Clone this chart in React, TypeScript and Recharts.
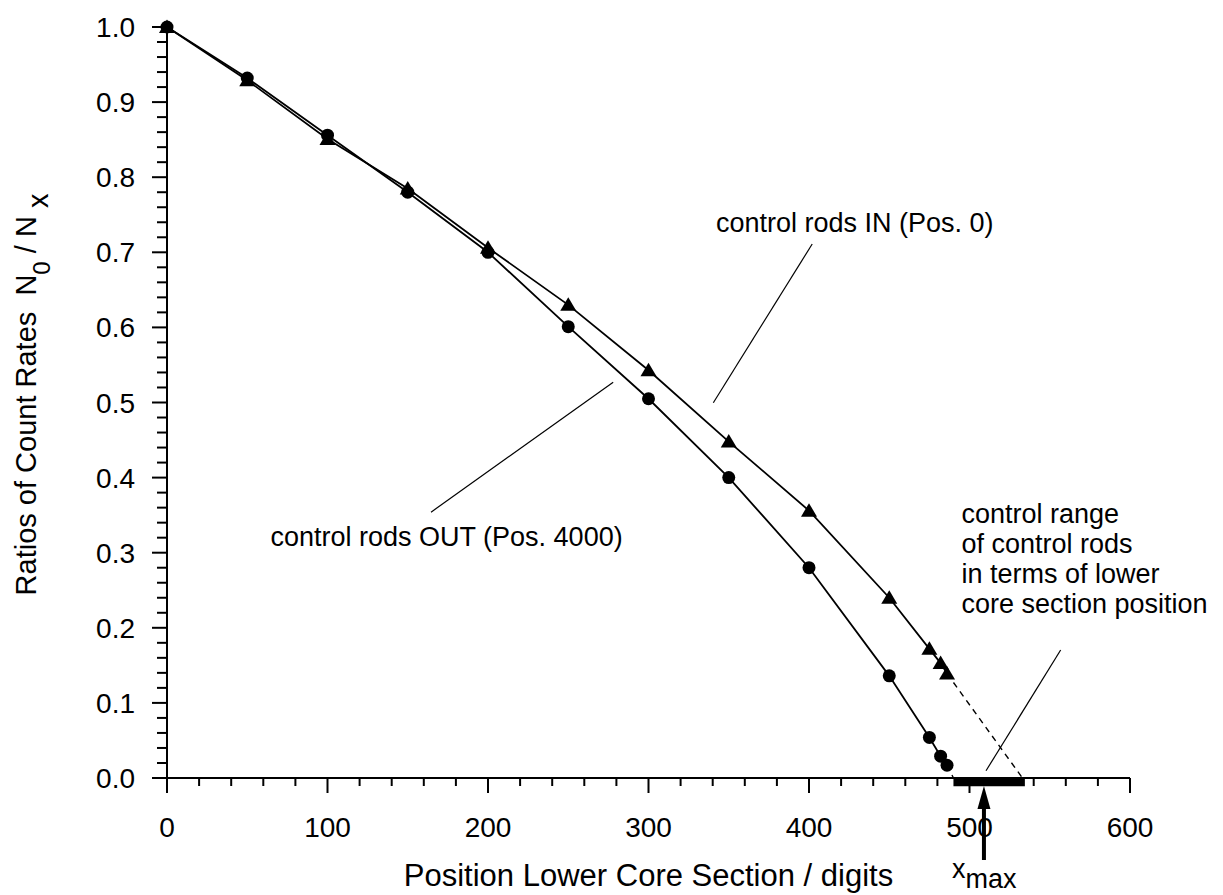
import React from "react";
import {
  LineChart,
  Line,
  XAxis,
  YAxis,
  ReferenceLine,
  ReferenceDot,
  ReferenceArea,
  Label,
} from "recharts";

// measured points (lower core section position in digits)
const positions = [0, 50, 100, 150, 200, 250, 300, 350, 400, 450, 475, 482, 486];
const rodsOut = [1.0, 0.932, 0.856, 0.78, 0.7, 0.601, 0.505, 0.4, 0.28, 0.136, 0.054, 0.029, 0.017];
const rodsIn = [1.0, 0.929, 0.851, 0.785, 0.706, 0.63, 0.543, 0.448, 0.356, 0.24, 0.172, 0.153, 0.139];

// extrapolation to zero count-rate ratio
const outZeroX = 490;
const inZeroX = 533;
const controlRange = [490, 534.5];
const xMaxPos = 509;

const xMajorTicks = [0, 100, 200, 300, 400, 500, 600];
const yMajorTicks = [0, 0.1, 0.2, 0.3, 0.4, 0.5, 0.6, 0.7, 0.8, 0.9, 1.0];
const xMinorStep = 20;
const yMinorStep = 0.02;

// annotation anchors in data units
const inLabel = { x: 342, y: 0.727, text: "control rods IN (Pos. 0)" };
const outLabel = { x: 64.5, y: 0.309, text: "control rods OUT (Pos. 4000)" };
const rangeLabel = {
  x: 495,
  y: 0.3395,
  lines: ["control range", "of control rods", "in terms of lower", "core section position"],
};
const inLeader = [{ x: 402, y: 0.711 }, { x: 340.4, y: 0.4997 }];
const outLeader = [{ x: 278, y: 0.527 }, { x: 164.5, y: 0.354 }];
const rangeLeader = [{ x: 556.8, y: 0.1704 }, { x: 510.3, y: 0.0097 }];

const outData = positions.map((x, i) => ({ x, y: rodsOut[i] }));
const inData = positions.map((x, i) => ({ x, y: rodsIn[i] }));
const outExt = [
  { x: positions[positions.length - 1], y: rodsOut[rodsOut.length - 1] },
  { x: outZeroX, y: 0 },
];
const inExt = [
  { x: positions[positions.length - 1], y: rodsIn[rodsIn.length - 1] },
  { x: inZeroX, y: 0 },
];

const xTicks: number[] = [];
for (let v = xMajorTicks[0]; v <= xMajorTicks[xMajorTicks.length - 1]; v += xMinorStep) xTicks.push(v);
const yTicks: number[] = [];
for (let i = 0; i <= Math.round(1 / yMinorStep); i++) yTicks.push(+(i * yMinorStep).toFixed(2));

const FONT = "'Liberation Sans', Arial, Helvetica, sans-serif";

function XTick({ x, y, payload }: any) {
  const major = xMajorTicks.includes(payload.value);
  return (
    <g>
      <line x1={x} y1={y} x2={x} y2={y + (major ? 15 : 8)} stroke="#000" strokeWidth={2} />
      {major && (
        <text x={x} y={y + 59} textAnchor="middle" fontSize={28} fontFamily={FONT} fill="#000">
          {payload.value}
        </text>
      )}
    </g>
  );
}

function YTick({ x, y, payload }: any) {
  const major = yMajorTicks.some((t) => Math.abs(t - payload.value) < 1e-6);
  return (
    <g>
      <line x1={x - (major ? 15 : 10)} y1={y} x2={x} y2={y} stroke="#000" strokeWidth={2} />
      {major && (
        <text x={x - 32} y={y + 10} textAnchor="end" fontSize={28} fontFamily={FONT} fill="#000">
          {payload.value.toFixed(1)}
        </text>
      )}
    </g>
  );
}

function YTitle({ viewBox }: any) {
  const x = viewBox.x + 36;
  const y = viewBox.y + viewBox.height / 2 - 8;
  return (
    <text
      transform={`rotate(-90 ${x} ${y})`}
      x={x}
      y={y}
      textAnchor="middle"
      fontSize={29}
      fontFamily={FONT}
      fill="#000"
    >
      {"Ratios of Count Rates\u00a0\u00a0N"}
      <tspan fontSize={24} dy={14}>0</tspan>
      <tspan dy={-14}>{"\u00a0/\u00a0N\u00a0"}</tspan>
      <tspan dy={12}>x</tspan>
    </text>
  );
}

function XTitle({ viewBox }: any) {
  return (
    <text
      x={viewBox.x + viewBox.width / 2}
      y={viewBox.y + 108}
      textAnchor="middle"
      fontSize={31}
      fontFamily={FONT}
      fill="#000"
    >
      Position Lower Core Section / digits
    </text>
  );
}

const CircleDot = (p: any) => <circle key={p.index} cx={p.cx} cy={p.cy} r={6.5} fill="#000" />;
const TriDot = (p: any) => (
  <polygon
    key={p.index}
    points={`${p.cx},${p.cy - 7.5} ${p.cx - 8},${p.cy + 6} ${p.cx + 8},${p.cy + 6}`}
    fill="#000"
  />
);

const textShape = (text: string) => (p: any) => (
  <text x={p.cx} y={p.cy} fontSize={27} fontFamily={FONT} fill="#000">
    {text}
  </text>
);

const rangeShape = (p: any) => (
  <text x={p.cx} y={p.cy} fontSize={27} fontFamily={FONT} fill="#000">
    {rangeLabel.lines.map((l, i) => (
      <tspan key={i} x={p.cx} dy={i === 0 ? 0 : 30}>
        {l}
      </tspan>
    ))}
  </text>
);

const arrowShape = (p: any) => (
  <g>
    <polygon points={`${p.cx},${p.cy + 8} ${p.cx - 6.5},${p.cy + 31} ${p.cx + 6.5},${p.cy + 31}`} fill="#000" />
    <line x1={p.cx} y1={p.cy + 29} x2={p.cx} y2={p.cy + 82} stroke="#000" strokeWidth={4} />
    <text x={p.cx - 32} y={p.cy + 100} fontSize={27} fontFamily={FONT} fill="#000">
      x<tspan dy={10}>max</tspan>
    </text>
  </g>
);

export default function App() {
  return (
    <div style={{ position: "absolute", left: 0, top: 0, background: "#fff" }}>
      <LineChart width={1223} height={895} margin={{ top: 27, right: 93, bottom: 0, left: 0 }}>
        <XAxis
          dataKey="x"
          type="number"
          domain={[0, 600]}
          ticks={xTicks}
          interval={0}
          tickSize={0}
          tickMargin={0}
          tickLine={false}
          tick={<XTick />}
          axisLine={{ stroke: "#000", strokeWidth: 2 }}
          height={117}
        >
          <Label content={<XTitle />} />
        </XAxis>
        <YAxis
          type="number"
          domain={[0, 1]}
          ticks={yTicks}
          interval={0}
          tickSize={0}
          tickMargin={0}
          tickLine={false}
          tick={<YTick />}
          axisLine={{ stroke: "#000", strokeWidth: 2 }}
          width={167}
        >
          <Label content={<YTitle />} />
        </YAxis>

        <ReferenceLine segment={inLeader} stroke="#000" strokeWidth={1.2} ifOverflow="visible" />
        <ReferenceLine segment={outLeader} stroke="#000" strokeWidth={1.2} ifOverflow="visible" />
        <ReferenceLine segment={rangeLeader} stroke="#000" strokeWidth={1.2} ifOverflow="visible" />

        <Line
          data={outExt}
          dataKey="y"
          type="linear"
          stroke="#000"
          strokeWidth={1.4}
          strokeDasharray="6 5"
          dot={false}
          activeDot={false}
          isAnimationActive={false}
        />
        <Line
          data={inExt}
          dataKey="y"
          type="linear"
          stroke="#000"
          strokeWidth={1.4}
          strokeDasharray="6 5"
          dot={false}
          activeDot={false}
          isAnimationActive={false}
        />
        <Line
          data={outData}
          dataKey="y"
          type="linear"
          stroke="#000"
          strokeWidth={1.8}
          dot={CircleDot}
          activeDot={false}
          isAnimationActive={false}
        />
        <Line
          data={inData}
          dataKey="y"
          type="linear"
          stroke="#000"
          strokeWidth={1.8}
          dot={TriDot}
          activeDot={false}
          isAnimationActive={false}
        />

        <ReferenceArea
          x1={controlRange[0]}
          x2={controlRange[1]}
          y1={0}
          y2={-0.011}
          fill="#000"
          fillOpacity={1}
          stroke="none"
          ifOverflow="visible"
        />
        <ReferenceDot x={xMaxPos} y={0} ifOverflow="visible" shape={arrowShape} />
        <ReferenceDot x={inLabel.x} y={inLabel.y} ifOverflow="visible" shape={textShape(inLabel.text)} />
        <ReferenceDot x={outLabel.x} y={outLabel.y} ifOverflow="visible" shape={textShape(outLabel.text)} />
        <ReferenceDot x={rangeLabel.x} y={rangeLabel.y} ifOverflow="visible" shape={rangeShape} />
      </LineChart>
    </div>
  );
}
